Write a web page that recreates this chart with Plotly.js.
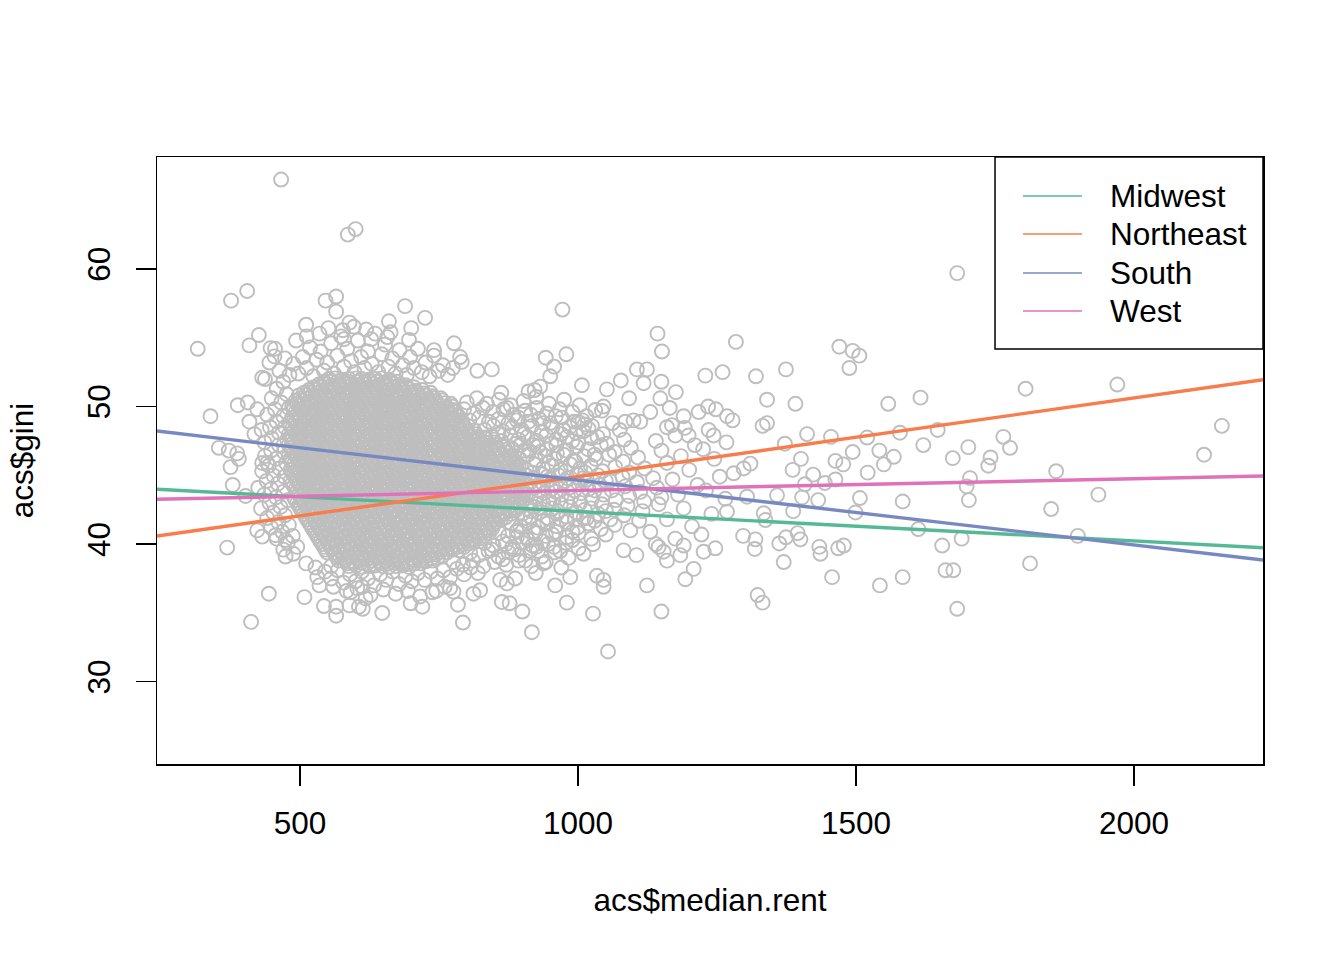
<!DOCTYPE html>
<html><head><meta charset="utf-8">
<script src="https://cdn.plot.ly/plotly-3.0.1.min.js"></script>
<style>html,body{margin:0;padding:0;background:#fff}#chart{width:1344px;height:960px}</style>
</head><body><div id="chart"></div>
<script>
// ---- data ----
const regions = ['Midwest','Northeast','South','West'];
const lineColors = ['#55B995','#F87C4C','#7789C0','#DF72B9'];
const intercepts = [44.509, 39.203, 49.364, 43.054];
const slopes = [-0.0021365, 0.005711, -0.004710, 0.0008496];
const xTicks = [500,1000,1500,2000];
const yTicks = [30,40,50,60];

// dense core of the cloud (estimated), [median.rent, gini]
const coreUpper = [
[552,52],[563,52.05],[577,51.95],[588,52],[601,52.05],[611,52],[624,51.95],[636,52],[647,52.05],[661,51.95],
[534,51.6],[547,51.65],[558,51.55],[571,51.6],[582,51.65],[593,51.6],[607,51.55],[618,51.6],[631,51.65],[642,51.55],[655,51.6],[665,51.65],[679,51.6],[690,51.55],
[516,51.2],[529,51.25],[540,51.15],[553,51.2],[563,51.25],[577,51.2],[588,51.15],[601,51.2],[612,51.25],[625,51.15],[636,51.2],[649,51.25],[660,51.2],[673,51.15],[684,51.2],[697,51.25],[708,51.15],[720,51.2],
[498,50.8],[511,50.85],[522,50.75],[535,50.8],[546,50.85],[559,50.8],[570,50.75],[583,50.8],[594,50.85],[607,50.75],[618,50.8],[631,50.85],[642,50.8],[655,50.75],[666,50.8],[679,50.85],[690,50.75],[703,50.8],[714,50.85],[727,50.8],[738,50.75],
[492,50.4],[505,50.45],[516,50.35],[529,50.4],[540,50.45],[553,50.4],[564,50.35],[577,50.4],[588,50.45],[601,50.35],[612,50.4],[625,50.45],[636,50.4],[649,50.35],[660,50.4],[673,50.45],[684,50.35],[697,50.4],[708,50.45],[721,50.4],[732,50.35],[745,50.4],[756,50.45],
[486,50],[499,50.05],[510,49.95],[523,50],[534,50.05],[547,50],[558,49.95],[571,50],[582,50.05],[595,49.95],[606,50],[619,50.05],[630,50],[643,49.95],[654,50],[667,50.05],[678,49.95],[691,50],[702,50.05],[715,50],[726,49.95],[739,50],[750,50.05],[763,49.95],[774,50],
[492,49.6],[505,49.65],[516,49.55],[529,49.6],[540,49.65],[553,49.6],[564,49.55],[577,49.6],[588,49.65],[601,49.55],[612,49.6],[625,49.65],[636,49.6],[649,49.55],[660,49.6],[673,49.65],[684,49.55],[697,49.6],[708,49.65],[721,49.6],[732,49.55],[745,49.6],[756,49.65],[769,49.55],[780,49.6],
[486,49.2],[499,49.25],[510,49.15],[523,49.2],[534,49.25],[547,49.2],[558,49.15],[571,49.2],[582,49.25],[595,49.15],[606,49.2],[619,49.25],[630,49.2],[643,49.15],[654,49.2],[667,49.25],[678,49.15],[691,49.2],[702,49.25],[715,49.2],[726,49.15],[739,49.2],[750,49.25],[763,49.15],[774,49.2],[786,49.25],
[480,48.8],[493,48.85],[504,48.75],[517,48.8],[528,48.85],[541,48.8],[552,48.75],[565,48.8],[576,48.85],[589,48.75],[600,48.8],[613,48.85],[624,48.8],[637,48.75],[648,48.8],[661,48.85],[672,48.75],[685,48.8],[696,48.85],[709,48.8],[720,48.75],[733,48.8],[744,48.85],[757,48.75],[768,48.8],[781,48.85],[792,48.8],
[486,48.4],[499,48.45],[510,48.35],[523,48.4],[534,48.45],[547,48.4],[558,48.35],[571,48.4],[582,48.45],[595,48.35],[606,48.4],[619,48.45],[630,48.4],[643,48.35],[654,48.4],[667,48.45],[678,48.35],[691,48.4],[702,48.45],[715,48.4],[726,48.35],[739,48.4],[750,48.45],[763,48.35],[774,48.4],[787,48.45],[798,48.4],
[480,48],[493,48.05],[504,47.95],[517,48],[528,48.05],[541,48],[552,47.95],[565,48],[576,48.05],[589,47.95],[600,48],[613,48.05],[624,48],[637,47.95],[648,48],[661,48.05],[672,47.95],[685,48],[696,48.05],[709,48],[720,47.95],[733,48],[744,48.05],[757,47.95],[768,48],[781,48.05],[792,48],[805,47.95],[816,48],
[486,47.6],[499,47.65],[510,47.55],[523,47.6],[534,47.65],[547,47.6],[558,47.55],[571,47.6],[582,47.65],[595,47.55],[606,47.6],[619,47.65],[630,47.6],[643,47.55],[654,47.6],[667,47.65],[678,47.55],[691,47.6],[702,47.65],[715,47.6],[726,47.55],[739,47.6],[750,47.65],[763,47.55],[774,47.6],[787,47.65],[798,47.6],[811,47.55],[822,47.6],[834,47.65],
[480,47.2],[493,47.25],[504,47.15],[517,47.2],[528,47.25],[541,47.2],[552,47.15],[565,47.2],[576,47.25],[589,47.15],[600,47.2],[613,47.25],[624,47.2],[637,47.15],[648,47.2],[661,47.25],[672,47.15],[685,47.2],[696,47.25],[709,47.2],[720,47.15],[733,47.2],[744,47.25],[757,47.15],[768,47.2],[781,47.25],[792,47.2],[805,47.15],[816,47.2],[829,47.25],[840,47.15],[852,47.2],
[486,46.8],[499,46.85],[510,46.75],[523,46.8],[534,46.85],[547,46.8],[558,46.75],[571,46.8],[582,46.85],[595,46.75],[606,46.8],[619,46.85],[630,46.8],[643,46.75],[654,46.8],[667,46.85],[678,46.75],[691,46.8],[702,46.85],[715,46.8],[726,46.75],[739,46.8],[750,46.85],[763,46.75],[774,46.8],[787,46.85],[798,46.8],[811,46.75],[822,46.8],[835,46.85],[846,46.75],[859,46.8],[870,46.85],
[480,46.4],[493,46.45],[504,46.35],[517,46.4],[528,46.45],[541,46.4],[552,46.35],[565,46.4],[576,46.45],[589,46.35],[600,46.4],[613,46.45],[624,46.4],[637,46.35],[648,46.4],[661,46.45],[672,46.35],[685,46.4],[696,46.45],[709,46.4],[720,46.35],[733,46.4],[744,46.45],[757,46.35],[768,46.4],[781,46.45],[792,46.4],[805,46.35],[816,46.4],[829,46.45],[840,46.35],[853,46.4],[864,46.45],[876,46.4],
[486,46],[499,46.05],[510,45.95],[523,46],[534,46.05],[547,46],[558,45.95],[571,46],[582,46.05],[595,45.95],[606,46],[619,46.05],[630,46],[643,45.95],[654,46],[667,46.05],[678,45.95],[691,46],[702,46.05],[715,46],[726,45.95],[739,46],[750,46.05],[763,45.95],[774,46],[787,46.05],[798,46],[811,45.95],[822,46],[835,46.05],[846,45.95],[859,46],[870,46.05],[882,46]
];
const coreLower = [
[492,45.6],[505,45.65],[516,45.55],[529,45.6],[540,45.65],[553,45.6],[564,45.55],[577,45.6],[588,45.65],[601,45.55],[612,45.6],[625,45.65],[636,45.6],[649,45.55],[660,45.6],[673,45.65],[684,45.55],[697,45.6],[708,45.65],[721,45.6],[732,45.55],[745,45.6],[756,45.65],[769,45.55],[780,45.6],[793,45.65],[804,45.6],[817,45.55],[828,45.6],[841,45.65],[852,45.55],[865,45.6],[876,45.65],[888,45.6],
[486,45.2],[499,45.25],[510,45.15],[523,45.2],[534,45.25],[547,45.2],[558,45.15],[571,45.2],[582,45.25],[595,45.15],[606,45.2],[619,45.25],[630,45.2],[643,45.15],[654,45.2],[667,45.25],[678,45.15],[691,45.2],[702,45.25],[715,45.2],[726,45.15],[739,45.2],[750,45.25],[763,45.15],[774,45.2],[787,45.25],[798,45.2],[811,45.15],[822,45.2],[835,45.25],[846,45.15],[859,45.2],[870,45.25],[882,45.2],[894,45.15],
[492,44.8],[505,44.85],[516,44.75],[529,44.8],[540,44.85],[553,44.8],[564,44.75],[577,44.8],[588,44.85],[601,44.75],[612,44.8],[625,44.85],[636,44.8],[649,44.75],[660,44.8],[673,44.85],[684,44.75],[697,44.8],[708,44.85],[721,44.8],[732,44.75],[745,44.8],[756,44.85],[769,44.75],[780,44.8],[793,44.85],[804,44.8],[817,44.75],[828,44.8],[841,44.85],[852,44.75],[865,44.8],[876,44.85],[889,44.8],[900,44.75],
[486,44.4],[499,44.45],[510,44.35],[523,44.4],[534,44.45],[547,44.4],[558,44.35],[571,44.4],[582,44.45],[595,44.35],[606,44.4],[619,44.45],[630,44.4],[643,44.35],[654,44.4],[667,44.45],[678,44.35],[691,44.4],[702,44.45],[715,44.4],[726,44.35],[739,44.4],[750,44.45],[763,44.35],[774,44.4],[787,44.45],[798,44.4],[811,44.35],[822,44.4],[835,44.45],[846,44.35],[859,44.4],[870,44.45],[882,44.4],[894,44.35],
[492,44],[505,44.05],[516,43.95],[529,44],[540,44.05],[553,44],[564,43.95],[577,44],[588,44.05],[601,43.95],[612,44],[625,44.05],[636,44],[649,43.95],[660,44],[673,44.05],[684,43.95],[697,44],[708,44.05],[721,44],[732,43.95],[745,44],[756,44.05],[769,43.95],[780,44],[793,44.05],[804,44],[817,43.95],[828,44],[841,44.05],[852,43.95],[865,44],[876,44.05],[889,44],[900,43.95],
[498,43.6],[510,43.65],[523,43.55],[534,43.6],[547,43.65],[558,43.6],[571,43.55],[582,43.6],[595,43.65],[606,43.55],[619,43.6],[630,43.65],[643,43.6],[654,43.55],[667,43.6],[678,43.65],[691,43.55],[702,43.6],[715,43.65],[726,43.6],[739,43.55],[750,43.6],[763,43.65],[774,43.55],[787,43.6],[798,43.65],[811,43.6],[822,43.55],[835,43.6],[846,43.65],[859,43.55],[870,43.6],[882,43.65],[894,43.6],[906,43.55],
[492,43.2],[505,43.25],[516,43.15],[529,43.2],[540,43.25],[553,43.2],[564,43.15],[577,43.2],[588,43.25],[601,43.15],[612,43.2],[625,43.25],[636,43.2],[649,43.15],[660,43.2],[673,43.25],[684,43.15],[697,43.2],[708,43.25],[721,43.2],[732,43.15],[745,43.2],[756,43.25],[769,43.15],[780,43.2],[793,43.25],[804,43.2],[817,43.15],[828,43.2],[841,43.25],[852,43.15],[865,43.2],[876,43.25],[889,43.2],[900,43.15],
[498,42.8],[510,42.85],[523,42.75],[534,42.8],[547,42.85],[558,42.8],[571,42.75],[582,42.8],[595,42.85],[606,42.75],[619,42.8],[630,42.85],[643,42.8],[654,42.75],[667,42.8],[678,42.85],[691,42.75],[702,42.8],[715,42.85],[726,42.8],[739,42.75],[750,42.8],[763,42.85],[774,42.75],[787,42.8],[798,42.85],[811,42.8],[822,42.75],[835,42.8],[846,42.85],[859,42.75],[870,42.8],[882,42.85],[894,42.8],
[504,42.4],[517,42.45],[528,42.35],[541,42.4],[552,42.45],[565,42.4],[576,42.35],[589,42.4],[600,42.45],[613,42.35],[624,42.4],[637,42.45],[648,42.4],[661,42.35],[672,42.4],[685,42.45],[696,42.35],[709,42.4],[720,42.45],[733,42.4],[744,42.35],[757,42.4],[768,42.45],[781,42.35],[792,42.4],[805,42.45],[816,42.4],[829,42.35],[840,42.4],[853,42.45],[864,42.35],[877,42.4],[888,42.45],
[510,42],[523,42.05],[534,41.95],[547,42],[558,42.05],[571,42],[582,41.95],[595,42],[606,42.05],[619,41.95],[630,42],[643,42.05],[654,42],[667,41.95],[678,42],[691,42.05],[702,41.95],[715,42],[726,42.05],[739,42],[750,41.95],[763,42],[774,42.05],[787,41.95],[798,42],[811,42.05],[822,42],[835,41.95],[846,42],[859,42.05],[870,41.95],
[516,41.6],[529,41.65],[540,41.55],[553,41.6],[564,41.65],[577,41.6],[588,41.55],[601,41.6],[612,41.65],[625,41.55],[636,41.6],[649,41.65],[660,41.6],[673,41.55],[684,41.6],[697,41.65],[708,41.55],[721,41.6],[732,41.65],[745,41.6],[756,41.55],[769,41.6],[780,41.65],[793,41.55],[804,41.6],[817,41.65],[828,41.6],[841,41.55],[852,41.6],
[522,41.2],[534,41.25],[547,41.15],[558,41.2],[571,41.25],[582,41.2],[595,41.15],[606,41.2],[619,41.25],[630,41.15],[643,41.2],[654,41.25],[667,41.2],[678,41.15],[691,41.2],[702,41.25],[715,41.15],[726,41.2],[739,41.25],[750,41.2],[763,41.15],[774,41.2],[787,41.25],[798,41.15],[811,41.2],[822,41.25],[835,41.2],[846,41.15],
[528,40.8],[541,40.85],[552,40.75],[565,40.8],[576,40.85],[589,40.8],[600,40.75],[613,40.8],[624,40.85],[637,40.75],[648,40.8],[661,40.85],[672,40.8],[685,40.75],[696,40.8],[709,40.85],[720,40.75],[733,40.8],[744,40.85],[757,40.8],[768,40.75],[781,40.8],[792,40.85],[805,40.75],[816,40.8],[829,40.85],[840,40.8],
[534,40.4],[547,40.45],[558,40.35],[571,40.4],[582,40.45],[595,40.4],[606,40.35],[619,40.4],[630,40.45],[643,40.35],[654,40.4],[667,40.45],[678,40.4],[691,40.35],[702,40.4],[715,40.45],[726,40.35],[739,40.4],[750,40.45],[763,40.4],[774,40.35],[787,40.4],[798,40.45],[811,40.35],[822,40.4],
[540,40],[553,40.05],[564,39.95],[577,40],[588,40.05],[601,40],[612,39.95],[625,40],[636,40.05],[649,39.95],[660,40],[673,40.05],[684,40],[697,39.95],[708,40],[721,40.05],[732,39.95],[745,40],[756,40.05],[769,40],[780,39.95],[793,40],[804,40.05],
[546,39.6],[558,39.65],[571,39.55],[582,39.6],[595,39.65],[606,39.6],[619,39.55],[630,39.6],[643,39.65],[654,39.55],[667,39.6],[678,39.65],[691,39.6],[702,39.55],[715,39.6],[726,39.65],[739,39.55],[750,39.6],[763,39.65],[774,39.6],[786,39.55],
[564,39.2],[577,39.25],[588,39.15],[601,39.2],[612,39.25],[625,39.2],[636,39.15],[649,39.2],[660,39.25],[673,39.15],[684,39.2],[697,39.25],[708,39.2],[721,39.15],[732,39.2],[745,39.25],[756,39.15],
[570,38.8],[582,38.85],[595,38.75],[606,38.8],[619,38.85],[630,38.8],[643,38.75],[654,38.8],[667,38.85],[678,38.75],[691,38.8],[702,38.85],[715,38.8],[726,38.75],[738,38.8],
[588,38.4],[601,38.45],[612,38.35],[625,38.4],[636,38.45],[649,38.4],[660,38.35],[673,38.4],[684,38.45],[696,38.35]
];
// further core points lying between the rows above (estimated)
const coreMid = [
[543,51.8],[555,51.8],[568,51.85],[579,51.8],[591,51.75],[603,51.8],[616,51.8],[627,51.85],[639,51.8],[651,51.75],[664,51.8],[675,51.8],
[525,51.4],[537,51.45],[549,51.4],[562,51.35],[573,51.4],[585,51.4],[597,51.45],[610,51.4],[621,51.35],[633,51.4],[645,51.4],[658,51.45],[669,51.4],[681,51.35],[693,51.4],[705,51.4],
[507,51],[519,51.05],[531,51],[544,50.95],[555,51],[567,51],[579,51.05],[592,51],[603,50.95],[615,51],[627,51],[640,51.05],[651,51],[663,50.95],[675,51],[688,51],[699,51.05],[711,51],[723,50.95],[735,51],
[501,50.6],[513,50.6],[526,50.65],[537,50.6],[549,50.55],[561,50.6],[574,50.6],[585,50.65],[597,50.6],[609,50.55],[622,50.6],[633,50.6],[645,50.65],[657,50.6],[670,50.55],[681,50.6],[693,50.6],[705,50.65],[718,50.6],[729,50.55],[741,50.6],[753,50.6],
[495,50.2],[507,50.2],[520,50.25],[531,50.2],[543,50.15],[555,50.2],[568,50.2],[579,50.25],[591,50.2],[603,50.15],[616,50.2],[627,50.2],[639,50.25],[651,50.2],[664,50.15],[675,50.2],[687,50.2],[699,50.25],[712,50.2],[723,50.15],[735,50.2],[747,50.2],[760,50.25],[771,50.2],
[489,49.8],[501,49.8],[514,49.85],[525,49.8],[537,49.75],[549,49.8],[562,49.8],[573,49.85],[585,49.8],[597,49.75],[610,49.8],[621,49.8],[633,49.85],[645,49.8],[658,49.75],[669,49.8],[681,49.8],[693,49.85],[706,49.8],[717,49.75],[729,49.8],[741,49.8],[754,49.85],[765,49.8],[777,49.75],
[495,49.4],[507,49.4],[520,49.45],[531,49.4],[543,49.35],[555,49.4],[568,49.4],[579,49.45],[591,49.4],[603,49.35],[616,49.4],[627,49.4],[639,49.45],[651,49.4],[664,49.35],[675,49.4],[687,49.4],[699,49.45],[712,49.4],[723,49.35],[735,49.4],[747,49.4],[760,49.45],[771,49.4],[783,49.35],
[489,49],[501,49],[514,49.05],[525,49],[537,48.95],[549,49],[562,49],[573,49.05],[585,49],[597,48.95],[610,49],[621,49],[633,49.05],[645,49],[658,48.95],[669,49],[681,49],[693,49.05],[706,49],[717,48.95],[729,49],[741,49],[754,49.05],[765,49],[777,48.95],[789,49],
[483,48.6],[495,48.6],[508,48.65],[519,48.6],[531,48.55],[543,48.6],[556,48.6],[567,48.65],[579,48.6],[591,48.55],[604,48.6],[615,48.6],[627,48.65],[639,48.6],[652,48.55],[663,48.6],[675,48.6],[687,48.65],[700,48.6],[711,48.55],[723,48.6],[735,48.6],[748,48.65],[759,48.6],[771,48.55],[783,48.6],[795,48.6],
[489,48.2],[501,48.2],[514,48.25],[525,48.2],[537,48.15],[549,48.2],[562,48.2],[573,48.25],[585,48.2],[597,48.15],[610,48.2],[621,48.2],[633,48.25],[645,48.2],[658,48.15],[669,48.2],[681,48.2],[693,48.25],[706,48.2],[717,48.15],[729,48.2],[741,48.2],[754,48.25],[765,48.2],[777,48.15],[789,48.2],[801,48.2],[813,48.25],
[483,47.8],[495,47.8],[508,47.85],[519,47.8],[531,47.75],[543,47.8],[556,47.8],[567,47.85],[579,47.8],[591,47.75],[604,47.8],[615,47.8],[627,47.85],[639,47.8],[652,47.75],[663,47.8],[675,47.8],[687,47.85],[700,47.8],[711,47.75],[723,47.8],[735,47.8],[748,47.85],[759,47.8],[771,47.75],[783,47.8],[795,47.8],[808,47.85],[819,47.8],[831,47.75],
[489,47.4],[501,47.4],[514,47.45],[525,47.4],[537,47.35],[549,47.4],[562,47.4],[573,47.45],[585,47.4],[597,47.35],[610,47.4],[621,47.4],[633,47.45],[645,47.4],[658,47.35],[669,47.4],[681,47.4],[693,47.45],[706,47.4],[717,47.35],[729,47.4],[741,47.4],[754,47.45],[765,47.4],[777,47.35],[789,47.4],[801,47.4],[814,47.45],[825,47.4],[837,47.35],[849,47.4],
[483,47],[495,47],[508,47.05],[519,47],[531,46.95],[543,47],[556,47],[567,47.05],[579,47],[591,46.95],[604,47],[615,47],[627,47.05],[639,47],[652,46.95],[663,47],[675,47],[687,47.05],[700,47],[711,46.95],[723,47],[735,47],[748,47.05],[759,47],[771,46.95],[783,47],[795,47],[808,47.05],[819,47],[831,46.95],[843,47],[855,47],[867,47.05],
[489,46.6],[501,46.6],[514,46.65],[525,46.6],[537,46.55],[549,46.6],[562,46.6],[573,46.65],[585,46.6],[597,46.55],[610,46.6],[621,46.6],[633,46.65],[645,46.6],[658,46.55],[669,46.6],[681,46.6],[693,46.65],[706,46.6],[717,46.55],[729,46.6],[741,46.6],[754,46.65],[765,46.6],[777,46.55],[789,46.6],[801,46.6],[814,46.65],[825,46.6],[837,46.55],[849,46.6],[861,46.6],[873,46.65],
[483,46.2],[495,46.2],[508,46.25],[519,46.2],[531,46.15],[543,46.2],[556,46.2],[567,46.25],[579,46.2],[591,46.15],[604,46.2],[615,46.2],[627,46.25],[639,46.2],[652,46.15],[663,46.2],[675,46.2],[687,46.25],[700,46.2],[711,46.15],[723,46.2],[735,46.2],[748,46.25],[759,46.2],[771,46.15],[783,46.2],[795,46.2],[808,46.25],[819,46.2],[831,46.15],[843,46.2],[855,46.2],[868,46.25],[879,46.2],
[489,45.8],[501,45.8],[514,45.85],[525,45.8],[537,45.75],[549,45.8],[562,45.8],[573,45.85],[585,45.8],[597,45.75],[610,45.8],[621,45.8],[633,45.85],[645,45.8],[658,45.75],[669,45.8],[681,45.8],[693,45.85],[706,45.8],[717,45.75],[729,45.8],[741,45.8],[754,45.85],[765,45.8],[777,45.75],[789,45.8],[801,45.8],[814,45.85],[825,45.8],[837,45.75],[849,45.8],[861,45.8],[874,45.85],[885,45.8],
[483,45.4],[495,45.4],[508,45.45],[519,45.4],[531,45.35],[543,45.4],[556,45.4],[567,45.45],[579,45.4],[591,45.35],[604,45.4],[615,45.4],[627,45.45],[639,45.4],[652,45.35],[663,45.4],[675,45.4],[687,45.45],[700,45.4],[711,45.35],[723,45.4],[735,45.4],[748,45.45],[759,45.4],[771,45.35],[783,45.4],[795,45.4],[808,45.45],[819,45.4],[831,45.35],[843,45.4],[855,45.4],[868,45.45],[879,45.4],[891,45.35],
[489,45],[501,45],[514,45.05],[525,45],[537,44.95],[549,45],[562,45],[573,45.05],[585,45],[597,44.95],[610,45],[621,45],[633,45.05],[645,45],[658,44.95],[669,45],[681,45],[693,45.05],[706,45],[717,44.95],[729,45],[741,45],[754,45.05],[765,45],[777,44.95],[789,45],[801,45],[814,45.05],[825,45],[837,44.95],[849,45],[861,45],[874,45.05],[885,45],[897,44.95],
[483,44.6],[495,44.6],[508,44.65],[519,44.6],[531,44.55],[543,44.6],[556,44.6],[567,44.65],[579,44.6],[591,44.55],[604,44.6],[615,44.6],[627,44.65],[639,44.6],[652,44.55],[663,44.6],[675,44.6],[687,44.65],[700,44.6],[711,44.55],[723,44.6],[735,44.6],[748,44.65],[759,44.6],[771,44.55],[783,44.6],[795,44.6],[808,44.65],[819,44.6],[831,44.55],[843,44.6],[855,44.6],[868,44.65],[879,44.6],[891,44.55],
[489,44.2],[501,44.2],[514,44.25],[525,44.2],[537,44.15],[549,44.2],[562,44.2],[573,44.25],[585,44.2],[597,44.15],[610,44.2],[621,44.2],[633,44.25],[645,44.2],[658,44.15],[669,44.2],[681,44.2],[693,44.25],[706,44.2],[717,44.15],[729,44.2],[741,44.2],[754,44.25],[765,44.2],[777,44.15],[789,44.2],[801,44.2],[814,44.25],[825,44.2],[837,44.15],[849,44.2],[861,44.2],[874,44.25],[885,44.2],[897,44.15],
[495,43.8],[507,43.8],[520,43.85],[531,43.8],[543,43.75],[555,43.8],[568,43.8],[579,43.85],[591,43.8],[603,43.75],[616,43.8],[627,43.8],[639,43.85],[651,43.8],[664,43.75],[675,43.8],[687,43.8],[699,43.85],[712,43.8],[723,43.75],[735,43.8],[747,43.8],[760,43.85],[771,43.8],[783,43.75],[795,43.8],[807,43.8],[820,43.85],[831,43.8],[843,43.75],[855,43.8],[867,43.8],[880,43.85],[891,43.8],[903,43.75],
[489,43.4],[501,43.4],[514,43.45],[525,43.4],[537,43.35],[549,43.4],[562,43.4],[573,43.45],[585,43.4],[597,43.35],[610,43.4],[621,43.4],[633,43.45],[645,43.4],[658,43.35],[669,43.4],[681,43.4],[693,43.45],[706,43.4],[717,43.35],[729,43.4],[741,43.4],[754,43.45],[765,43.4],[777,43.35],[789,43.4],[801,43.4],[814,43.45],[825,43.4],[837,43.35],[849,43.4],[861,43.4],[874,43.45],[885,43.4],[897,43.35],
[495,43],[507,43],[520,43.05],[531,43],[543,42.95],[555,43],[568,43],[579,43.05],[591,43],[603,42.95],[616,43],[627,43],[639,43.05],[651,43],[664,42.95],[675,43],[687,43],[699,43.05],[712,43],[723,42.95],[735,43],[747,43],[760,43.05],[771,43],[783,42.95],[795,43],[807,43],[820,43.05],[831,43],[843,42.95],[855,43],[867,43],[880,43.05],[891,43],
[501,42.6],[513,42.6],[526,42.65],[537,42.6],[549,42.55],[561,42.6],[574,42.6],[585,42.65],[597,42.6],[609,42.55],[622,42.6],[633,42.6],[645,42.65],[657,42.6],[670,42.55],[681,42.6],[693,42.6],[705,42.65],[718,42.6],[729,42.55],[741,42.6],[753,42.6],[766,42.65],[777,42.6],[789,42.55],[801,42.6],[813,42.6],[826,42.65],[837,42.6],[849,42.55],[861,42.6],[873,42.6],[885,42.65],
[507,42.2],[519,42.2],[532,42.25],[543,42.2],[555,42.15],[567,42.2],[580,42.2],[591,42.25],[603,42.2],[615,42.15],[628,42.2],[639,42.2],[651,42.25],[663,42.2],[676,42.15],[687,42.2],[699,42.2],[711,42.25],[724,42.2],[735,42.15],[747,42.2],[759,42.2],[772,42.25],[783,42.2],[795,42.15],[807,42.2],[819,42.2],[832,42.25],[843,42.2],[855,42.15],[867,42.2],[879,42.2],
[513,41.8],[525,41.8],[538,41.85],[549,41.8],[561,41.75],[573,41.8],[586,41.8],[597,41.85],[609,41.8],[621,41.75],[634,41.8],[645,41.8],[657,41.85],[669,41.8],[682,41.75],[693,41.8],[705,41.8],[717,41.85],[730,41.8],[741,41.75],[753,41.8],[765,41.8],[778,41.85],[789,41.8],[801,41.75],[813,41.8],[825,41.8],[838,41.85],[849,41.8],[861,41.75],
[519,41.4],[531,41.4],[544,41.45],[555,41.4],[567,41.35],[579,41.4],[592,41.4],[603,41.45],[615,41.4],[627,41.35],[640,41.4],[651,41.4],[663,41.45],[675,41.4],[688,41.35],[699,41.4],[711,41.4],[723,41.45],[736,41.4],[747,41.35],[759,41.4],[771,41.4],[784,41.45],[795,41.4],[807,41.35],[819,41.4],[831,41.4],[849,41.45],
[525,41],[537,41],[550,41.05],[561,41],[573,40.95],[585,41],[598,41],[609,41.05],[621,41],[633,40.95],[646,41],[657,41],[669,41.05],[681,41],[694,40.95],[705,41],[717,41],[729,41.05],[742,41],[753,40.95],[765,41],[777,41],[790,41.05],[801,41],[813,40.95],[825,41],[837,41],
[531,40.6],[543,40.6],[556,40.65],[567,40.6],[579,40.55],[591,40.6],[604,40.6],[615,40.65],[627,40.6],[639,40.55],[652,40.6],[663,40.6],[675,40.65],[687,40.6],[700,40.55],[711,40.6],[723,40.6],[735,40.65],[748,40.6],[759,40.55],[771,40.6],[783,40.6],[796,40.65],[807,40.6],[819,40.55],[831,40.6],
[537,40.2],[549,40.2],[562,40.25],[573,40.2],[585,40.15],[597,40.2],[610,40.2],[621,40.25],[633,40.2],[645,40.15],[658,40.2],[669,40.2],[681,40.25],[693,40.2],[706,40.15],[717,40.2],[729,40.2],[741,40.25],[754,40.2],[765,40.15],[777,40.2],[789,40.2],[802,40.25],[813,40.2],
[543,39.8],[555,39.8],[568,39.85],[579,39.8],[591,39.75],[603,39.8],[616,39.8],[627,39.85],[639,39.8],[651,39.75],[664,39.8],[675,39.8],[687,39.85],[699,39.8],[712,39.75],[723,39.8],[735,39.8],[747,39.85],[760,39.8],[771,39.75],[783,39.8],[795,39.8],
[549,39.4],[561,39.4],[574,39.45],[585,39.4],[597,39.35],[609,39.4],[622,39.4],[633,39.45],[645,39.4],[657,39.35],[670,39.4],[681,39.4],[693,39.45],[705,39.4],[718,39.35],[729,39.4],[741,39.4],[753,39.45],[765,39.4],
[567,39],[579,39],[592,39.05],[603,39],[615,38.95],[627,39],[640,39],[651,39.05],[663,39],[675,38.95],[688,39],[699,39],[711,39.05],[723,39],[736,38.95],[747,39],
[585,38.6],[597,38.6],[610,38.65],[621,38.6],[633,38.55],[645,38.6],[658,38.6],[669,38.65],[681,38.6],[693,38.55],[706,38.6],[717,38.6]
];
// ring of medium density around the core (estimated)
const fringe = [
[470,51.8],[458,51.3],[476,50.9],[449,50.6],[466,50.3],[480,49.9],[455,49.8],[441,49.4],[470,49.3],[458,48.9],[446,48.5],[473,48.5],[431,48.3],[462,48.1],[449,47.7],[477,47.6],[436,47.4],[462,47.2],[448,46.8],[471,46.7],[437,46.4],[457,46.2],[475,45.9],[444,45.7],[463,45.5],[432,45.3],[452,45.0],[472,44.9],[440,44.6],[460,44.4],[425,44.1],[448,44.0],[470,43.8],[436,43.6],[457,43.4],[478,43.2],[445,43.0],[465,42.7],[430,42.6],[452,42.3],[473,42.1],[441,41.9],[461,41.6],[480,41.4],[448,41.2],[468,40.9],[487,40.6],[458,40.4],[478,40.1],[495,39.8],[470,39.6],[488,39.3],
[488,53.1],[497,52.4],[505,53.6],[512,52.8],[518,54.3],[524,52.2],[530,53.4],[537,54.0],[543,52.6],[549,53.2],[556,54.6],[561,52.4],[567,53.7],[574,55.1],[579,52.9],[585,54.2],[592,53.3],[598,52.5],[604,54.8],[610,53.6],[616,52.8],[622,54.0],[629,53.1],[635,55.3],[641,52.5],[647,53.8],[653,54.5],[659,52.9],[666,53.5],[672,52.4],[679,54.1],[685,53.0],[692,52.3],[698,53.6],[705,52.8],[712,54.2],[719,52.5],[726,53.2],[733,52.2],[741,53.7],[749,52.6],[757,53.0],[766,52.3],[775,52.8],[535,55.3],[551,55.7],[619,55.6],[589,56.1],[660,56.2],[700,55.7],[481,52.3],[473,53.5],[493,54.8],[512,55.1],[463,52.6],[455,54.2],[445,53.2],[437,52.0],
[545,38.0],[556,37.5],[568,38.1],[578,37.2],[590,37.8],[600,37.3],[611,38.0],[622,37.5],[633,37.0],[644,37.8],[655,37.4],[667,38.0],[678,37.1],[690,37.7],[701,37.3],[712,37.9],[724,37.4],[735,38.0],[747,37.5],[758,38.1],[770,37.6],[782,38.2],[795,37.8],[807,38.3],[820,37.9],[584,36.6],[603,36.8],[627,36.3],[650,36.7],[672,36.4],[694,36.6],[716,36.2],[560,36.9],[535,37.0],[528,38.3],[556,38.4],[760,36.9],[745,36.6]
];
// medium density cloud to the right of the core (estimated)
const rightCloud = [
[800,50.3],[818,50.6],[836,50.2],[858,50.5],[879,50.1],[902,50.4],[925,50.7],[948,50.2],[975,50.5],[1003,50.1],
[795,49.8],[812,49.5],[829,49.9],[847,49.6],[866,49.8],[884,49.4],[905,49.7],[926,49.9],[944,49.5],[967,49.8],[990,49.6],[1015,49.3],[1043,49.7],
[805,49.0],[822,49.2],[840,48.9],[857,49.1],[875,48.8],[893,49.2],[911,48.9],[930,49.1],[950,48.8],[971,49.2],[993,48.9],[1025,48.6],[1062,48.8],
[832,48.3],[848,48.6],[865,48.2],[882,48.5],[899,48.3],[917,48.6],[935,48.2],[954,48.5],[974,48.3],[996,48.1],[1019,48.4],[1045,48.0],[1075,48.3],
[846,47.8],[862,47.5],[878,47.9],[893,47.6],[909,47.8],[926,47.5],[943,47.9],[961,47.6],[980,47.8],[1001,47.4],[1024,47.7],[1052,47.3],[1083,47.6],
[866,47.1],[882,46.9],[897,47.2],[912,46.8],[928,47.1],[944,46.9],[961,47.2],[979,46.8],[998,47.1],[1018,46.9],[1041,47.2],[1066,46.7],[1095,47.0],
[880,46.4],[895,46.2],[910,46.5],[925,46.1],[941,46.4],[957,46.2],[974,46.5],[992,46.1],[1011,46.4],[1032,46.2],[1056,46.5],[1081,46.0],[1108,46.3],
[893,45.7],[907,45.4],[922,45.8],[937,45.5],[953,45.7],[969,45.4],[986,45.8],[1004,45.5],[1023,45.7],[1044,45.3],[1067,45.6],[1092,45.2],[1120,45.5],
[905,45.0],[919,44.8],[934,45.1],[949,44.7],[965,45.0],[981,44.8],[998,45.1],[1016,44.7],[1036,45.0],[1057,44.6],[1080,44.9],[1106,44.5],[1135,44.8],
[908,44.3],[922,44.1],[937,44.4],[952,44.0],[968,44.3],[984,44.1],[1001,44.4],[1019,44.0],[1039,44.3],[1061,43.9],[1085,44.2],[1112,43.8],[1142,44.1],
[910,43.6],[924,43.4],[939,43.7],[955,43.3],[971,43.6],[988,43.4],[1006,43.7],[1025,43.3],[1046,43.6],[1068,43.2],[1092,43.5],[1119,43.1],[1150,43.4],
[908,42.9],[922,42.7],[937,43.0],[953,42.6],[969,42.9],[986,42.7],[1004,43.0],[1023,42.6],[1043,42.9],[1065,42.5],[1089,42.8],[1116,42.4],
[900,42.2],[915,42.0],[930,42.3],[946,41.9],[962,42.2],[979,42.0],[997,42.3],[1016,41.9],[1036,42.2],[1058,41.8],[1083,42.1],[1110,41.7],
[880,41.5],[896,41.3],[912,41.6],[928,41.2],[945,41.5],[962,41.3],[980,41.6],[999,41.2],[1019,41.5],[1041,41.1],[1066,41.4],[1094,41.0],
[858,40.8],[874,40.6],[890,40.9],[907,40.5],[924,40.8],[942,40.6],[960,40.9],[980,40.5],[1001,40.8],[1024,40.4],[1050,40.7],
[832,40.1],[848,39.9],[865,40.2],[882,39.8],[900,40.1],[918,39.9],[937,40.2],[957,39.8],[978,40.1],[1001,39.7],[1027,40.0],
[806,39.4],[822,39.2],[839,39.5],[857,39.1],[875,39.4],[894,39.2],[914,39.5],[935,39.1],[958,39.4],[983,39.0],[1010,39.3],
[776,38.7],[793,38.5],[811,38.8],[830,38.4],[850,38.7],[871,38.5],[893,38.8],[916,38.4],[942,38.7],[970,38.3],
[872,49.9],[890,49.0],[915,49.4],[938,48.8],[960,49.3],[985,48.5],[1008,49.0],[857,48.0],[888,47.3],[903,48.0],[920,47.2],[952,47.3],[970,48.0],[990,47.5],[1010,48.2],[1035,47.8],
[888,45.9],[903,46.8],[918,45.2],[932,46.7],[947,45.9],[962,46.6],[978,45.3],[995,46.0],[1013,45.2],[1030,46.5],[915,44.5],[929,43.9],[945,44.9],[960,43.8],[977,44.6],[993,43.9],[1010,44.8],[1030,43.9],[1050,44.6],
[915,42.4],[932,42.6],[948,43.1],[963,42.4],[980,43.1],[995,41.8],[1012,42.5],[1030,41.7],[1050,42.4],[890,41.0],[905,41.9],[920,40.9],[937,41.7],[954,40.7],[970,41.8],[990,40.9],[1010,41.9],
[870,40.0],[890,40.5],[910,40.3],[928,39.5],[946,40.0],[968,39.5],[990,40.3],[845,39.6],[865,38.9],[885,39.6],[905,38.8],[925,39.8],
[1130,49.6],[1165,49.9],[1190,49.3],[1140,47.5],[1175,47.9],[1210,47.2],[1150,46.8],[1185,46.4],[1225,46.9],[1160,45.9],[1200,45.4],[1245,46.2],[1170,44.7],[1215,44.3],[1255,44.9],[1180,43.6],[1230,43.9],[1265,43.3],[1145,42.9],[1190,42.6],[1240,42.2],[1160,41.8],[1205,41.3],[1130,40.9],[1175,40.4],[1222,40.7],[1140,40.0],[1190,39.9],[1105,39.2],[1160,38.8]
];
// individually readable points
const scattered = [
[1682,59.7],[1616,50.65],[1805,51.3],[1970,51.6],[2158,48.6],[2126,46.5],[1647,48.3],[1621,47.2],[1702,47.05],[1765,47.8],[1777,47.0],[1674,46.25],[1742,46.3],[1738,45.7],[1705,44.8],[1699,44.2],[1703,43.2],[1579,48.1],[1584,43.1],[1860,45.3],[1851,42.55],[1936,43.6],[1899,40.6],[1813,38.6],[1612,41.1],[1655,39.9],[1690,40.4],[1661,38.1],[1675,38.1],[1584,37.6],[1682,35.3],
[1284,54.7],[1260,52.5],[1320,52.2],[1374,52.7],[1470,54.35],[1494,54.05],[1506,53.7],[1488,52.8],[1340,50.5],[1391,50.2],[1558,50.2],[1268,49.3],[1278,49.0],[1332,48.6],[1340,48.8],[1412,48.0],[1455,47.8],[1520,47.75],[1372,47.3],[1267,47.4],[1494,46.7],[1542,46.8],[1401,46.2],[1463,46.05],[1477,45.8],[1550,45.8],[1568,46.35],[1386,45.4],[1423,45.05],[1521,45.2],[1408,44.35],[1444,44.45],[1463,44.7],[1358,43.55],[1403,43.4],[1432,43.2],[1387,42.4],[1507,43.35],[1499,42.3],[1543,37.0],[1457,37.6],[1370,38.7],[1434,39.8],[1436,39.3],[1468,39.7],[1478,39.9],[1362,40.05],[1374,40.5],[1395,40.8],[1400,40.35],[1319,40.35],[1318,39.65],[1297,40.6],[1323,36.3],[1332,35.75],
[1143,55.3],[1151,54.0],[1077,51.9],[1106,52.7],[1124,52.7],[1118,51.7],[1150,51.8],[1176,51.05],[1148,50.6],[1092,50.6],[1052,51.25],[1229,52.25],[1217,49.6],[1234,50.0],[1248,49.8],[1160,48.5],[1169,48.65],[1192,48.45],[1199,47.9],[1235,48.3],[1244,47.9],[1310,45.85],[1298,45.5],[1280,45.15],[1304,43.45],[1334,42.25],[1337,41.75],[1268,42.35],[1208,38.2],[1193,37.45],[1124,37.0],[1150,35.1],[1184,39.2],[1247,39.7],[1226,39.45],[1154,39.45],[1145,39.8],[1082,39.55],[1046,36.9],[1054,32.2],
[972,57.05],[788,53.6],[791,53.25],[942,53.55],[979,53.8],[957,52.9],[950,52.2],[1007,51.55],[845,52.7],[819,52.6],[862,51.0],[932,51.45],[922,51.2],[911,51.1],[1046,50.0],[1031,49.75],[1000,48.9],[1012,48.7],[1085,48.9],[1100,49.0],[1112,48.9],
[466,66.5],[586,62.5],[600,62.9],[376,57.7],[405,58.4],[316,54.2],[546,57.7],[565,58.0],[565,56.9],[689,57.3],[725,56.45],[511,55.95],[426,55.2],[409,54.45],[447,54.25],[454,53.65],[432,52.1],[577,55.55],[597,55.8],[579,54.9],[628,54.9],[657,55.05],[663,55.4],[696,54.85],[777,54.6],[741,54.1],
[339,49.3],[388,50.1],[406,50.3],[423,49.8],[409,48.9],[418,48.0],[354,47.0],[372,46.8],[387,46.6],[390,46.2],[375,45.6],[379,44.3],[402,43.5],[432,45.9],[441,45.9],[369,39.75],[423,41.0],[432,40.55],[456,40.65],[474,40.3],[474,39.1],[511,38.6],[531,37.6],[444,36.4],[508,36.15],[543,35.5],[565,35.45],[565,34.8],[412,34.35],[606,35.45],[613,35.3],[589,35.55],[591,36.5],[612,36.9],[618,36.05],[648,35.0],[699,35.7],[720,35.45],[738,36.5],[793,34.3],[784,35.6],
[917,33.6],[863,35.8],[877,35.7],[900,35.1],[980,35.75],[1027,34.95],[959,37.0],[1046,37.4],[1034,37.7],[986,37.6],[770,36.8],[776,36.55],[812,36.4],[824,36.65],[860,37.4],[872,37.15],[887,37.5],[924,37.9],[938,38.6]
];

// ---- build ----
const points = coreUpper.concat(coreLower, coreMid, fringe, rightCloud, scattered);
const rent = points.map(p => p[0]);
const gini = points.map(p => p[1]);
const xRange = [242.8, 2232];
const yRange = [24.02, 68.14];

const traces = [{
  type: 'scatter', mode: 'markers', x: rent, y: gini, hoverinfo: 'skip', showlegend: false,
  marker: {symbol: 'circle-open', size: 14, color: '#BEBEBE', line: {width: 1.9}}
}];
regions.forEach((r, i) => {
  traces.push({
    type: 'scatter', mode: 'lines', name: r, showlegend: false, hoverinfo: 'skip',
    x: xRange, y: xRange.map(v => intercepts[i] + slopes[i] * v),
    line: {color: lineColors[i], width: 3.4}
  });
});

const FONT = 'Liberation Sans, Arial, Helvetica, sans-serif';
const FS = 31.5;
// legend box (paper coords)
const lgX0 = 0.7577, lgY0 = 0.6837;
const rowY = [0.9357, 0.8731, 0.8089, 0.7463];
const shapes = [{type:'rect', xref:'paper', yref:'paper', x0:lgX0, x1:1, y0:lgY0, y1:1,
  line:{color:'#000', width:1.5}, fillcolor:'rgba(255,255,255,0)'}];
const annotations = [];
regions.forEach((r, i) => {
  shapes.push({type:'line', xref:'paper', yref:'paper', x0:0.7830, x1:0.8363, y0:rowY[i], y1:rowY[i],
    line:{color:lineColors[i], width:1.6}});
  annotations.push({xref:'paper', yref:'paper', x:0.8600, y:rowY[i], xanchor:'left', yanchor:'middle',
    text:r, showarrow:false, font:{family:FONT, size:FS, color:'#000'}});
});

const axisCommon = {
  showgrid:false, zeroline:false, showline:true, mirror:true, linecolor:'#000', linewidth:1.5,
  ticks:'outside', ticklen:20, tickwidth:1.5, tickcolor:'#000', automargin:false, fixedrange:true,
  tickfont:{family:FONT, size:FS, color:'#000'}
};
const layout = {
  width:1344, height:960, margin:{l:157, r:81, t:157, b:196},
  paper_bgcolor:'#fff', plot_bgcolor:'#fff', showlegend:false,
  font:{family:FONT, size:FS, color:'#000'},
  xaxis: Object.assign({}, axisCommon, {range:xRange, tickvals:xTicks, ticktext:xTicks.map(String),
    ticklabelstandoff:11, title:{text:'acs$median.rent', font:{family:FONT, size:FS, color:'#000'}, standoff:48}}),
  yaxis: Object.assign({}, axisCommon, {range:yRange, tickvals:yTicks, ticktext:yTicks.map(String), tickangle:-90,
    ticklabelstandoff:13, title:{text:'acs$gini', font:{family:FONT, size:FS, color:'#000'}, standoff:38}}),
  shapes: shapes, annotations: annotations
};
Plotly.newPlot('chart', traces, layout, {displayModeBar:false, staticPlot:true});
</script></body></html>
